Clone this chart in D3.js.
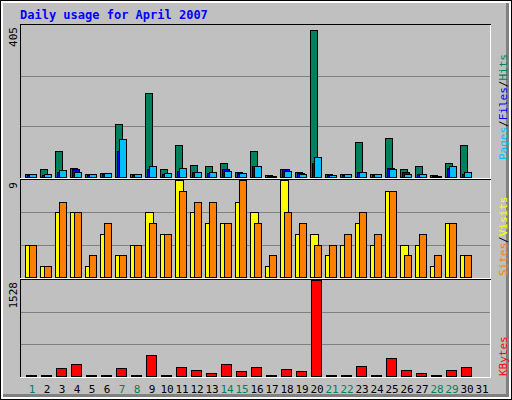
<!DOCTYPE html>
<html>
<head>
<meta charset="utf-8">
<script src="https://cdn.jsdelivr.net/npm/d3@7"></script>
<style>
  body { margin: 0; background: #fff; }
  text { font-family: "DejaVu Sans Mono", monospace; }
</style>
</head>
<body>
<div id="chart"></div>
<script>
const days = d3.range(1, 32);
const weekends = [1, 7, 8, 14, 15, 21, 22, 28, 29];

const hits   = [7, 22, 68, 25, 7, 10, 140, 7, 223, 22, 84, 33, 30, 38, 14, 68, 4, 22, 12, 393, 7, 7, 94, 7, 105, 22, 28, 4, 38, 84, 0];
const files  = [5, 5, 12, 22, 5, 8, 70, 5, 22, 7, 17, 12, 11, 22, 10, 30, 2, 20, 10, 37, 4, 5, 12, 5, 25, 12, 9, 2, 25, 9, 0];
const pages  = [7, 7, 18, 14, 7, 10, 102, 7, 30, 10, 25, 14, 12, 17, 10, 28, 2, 17, 9, 52, 4, 7, 14, 7, 22, 9, 9, 2, 28, 12, 0];
const sites  = [3, 1, 6, 6, 1, 4, 2, 3, 6, 4, 9, 6, 5, 5, 7, 6, 1, 9, 4, 4, 2, 3, 5, 3, 8, 3, 3, 1, 5, 2, 0];
const visits = [3, 1, 7, 6, 2, 5, 2, 3, 5, 4, 8, 7, 7, 5, 9, 5, 2, 6, 5, 3, 3, 4, 6, 4, 8, 2, 4, 2, 5, 2, 0];
const kbytes = [20, 20, 123, 195, 20, 20, 123, 20, 329, 20, 140, 89, 45, 195, 73, 140, 20, 106, 73, 1528, 20, 20, 162, 20, 279, 89, 45, 20, 89, 140, 0];

const W = 512, H = 400;
const svg = d3.select('#chart').append('svg').attr('width', W).attr('height', H);

// frame
svg.append('rect').attr('x', 0).attr('y', 0).attr('width', W).attr('height', H).attr('fill', '#000');
svg.append('rect').attr('x', 1).attr('y', 1).attr('width', W - 2).attr('height', H - 2).attr('fill', '#fff');
svg.append('rect').attr('x', 3).attr('y', 3).attr('width', W - 6).attr('height', H - 6).attr('fill', '#808080');
svg.append('rect').attr('x', 3).attr('y', 3).attr('width', W - 9).attr('height', H - 9).attr('fill', '#c0c0c0');

svg.append('text').attr('x', 20).attr('y', 19)
  .attr('fill', '#0000ff').attr('font-size', 12).attr('font-weight', 'bold')
  .text('Daily usage for April 2007');

const x = d3.scaleBand().domain(days).range([25, 490]).padding(0);

const panels = [
  { top: 25, bottom: 177, max: 405 },
  { top: 180, bottom: 277, max: 9 },
  { top: 280, bottom: 376, max: 1528 }
];

panels.forEach(p => {
  p.y = d3.scaleLinear().domain([0, p.max]).range([p.bottom, p.top]);
  const g = svg.append('g');
  g.append('line').attr('x1', 20).attr('x2', 491).attr('y1', p.top - 0.5).attr('y2', p.top - 0.5).attr('stroke', '#000');
  g.append('line').attr('x1', 20.5).attr('x2', 20.5).attr('y1', p.top - 1).attr('y2', p.bottom + 1).attr('stroke', '#000');
  g.append('line').attr('x1', 20).attr('x2', 491).attr('y1', p.bottom + 1.5).attr('y2', p.bottom + 1.5).attr('stroke', '#fff');
  g.append('line').attr('x1', 490.5).attr('x2', 490.5).attr('y1', p.top).attr('y2', p.bottom + 1).attr('stroke', '#fff');
  [1 / 3, 2 / 3].forEach(f => {
    const yy = Math.round(p.y(p.max * f)) + 0.5;
    g.append('line').attr('x1', 21).attr('x2', 490).attr('y1', yy).attr('y2', yy).attr('stroke', '#808080');
  });
  g.append('text').attr('transform', `translate(17,${p.top + 2}) rotate(-90)`)
    .attr('text-anchor', 'end').attr('font-size', 11).attr('fill', '#000').text(p.max);
});

function bars(values, panel, dx, w, color) {
  svg.append('g').selectAll('rect').data(values.map((v, i) => [days[i], v]).filter(d => d[1] > 0)).join('rect')
    .attr('x', d => x(d[0]) + dx + 0.5)
    .attr('y', d => Math.round(panel.y(d[1])) + 0.5)
    .attr('width', w)
    .attr('height', d => Math.max(1, panel.bottom - Math.round(panel.y(d[1]))))
    .attr('fill', color).attr('stroke', '#000');
}

bars(hits, panels[0], 0, 7, '#00805c');
bars(files, panels[0], 2, 7, '#0000ff');
bars(pages, panels[0], 4, 7, '#00c0ff');
bars(sites, panels[1], 0, 8, '#ffff00');
bars(visits, panels[1], 4, 7, '#ff8000');
bars(kbytes, panels[2], 1, 10, '#ff0000');

// x labels
svg.append('g').selectAll('text').data(days).join('text')
  .attr('x', d => x(d) + 7).attr('y', 393)
  .attr('text-anchor', 'middle').attr('font-size', 11)
  .attr('fill', d => weekends.includes(d) ? '#00805c' : '#000')
  .text(d => d);

// right legends
function legend(parts, yStart) {
  const t = svg.append('text').attr('transform', `translate(507,${yStart}) rotate(-90)`)
    .attr('text-anchor', 'start').attr('font-size', 11);
  parts.forEach(([s, c]) => t.append('tspan').attr('fill', c).text(s));
}
legend([['Pages', '#00c0ff'], ['/', '#000'], ['Files', '#0000ff'], ['/', '#000'], ['Hits', '#00805c']], 160);
legend([['Sites', '#ff8000'], ['/', '#000'], ['Visits', '#ffff00']], 276);
legend([['KBytes', '#ff0000']], 376);
</script>
</body>
</html>
